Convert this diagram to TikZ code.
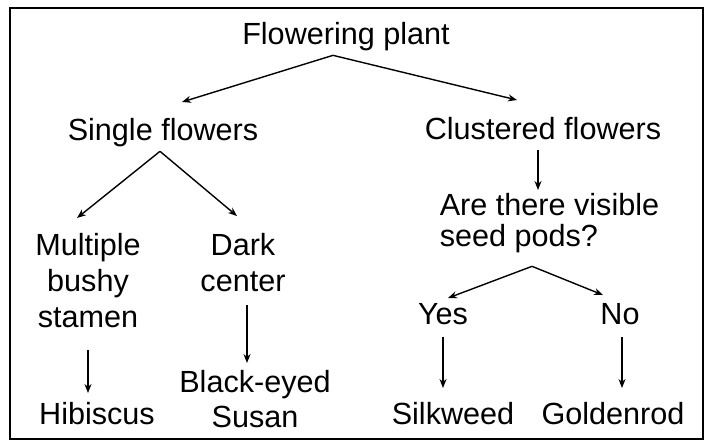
\documentclass[tikz,border=0pt]{standalone}
\usepackage{fontspec}
\setmainfont{Liberation Sans}
\usetikzlibrary{arrows.meta, positioning}
\tikzset{
    label/.style={anchor=north, inner sep=0pt, font=\fontsize{15.3}{18}\selectfont},
    arr/.style={line width=0.7pt, -{Stealth[length=4.5pt, width=3.5pt]}}
}

\begin{document}
\begin{tikzpicture}[x=0.5pt, y=-0.5pt]
    % Frame
    \useasboundingbox (0,0) rectangle (710,447);
    \draw[line width=1pt] (10,8) rectangle (703,439);

    % Root
    \node[label] (plant) at (346,22) {Flowering plant};

    % Second level
    \node[label] (single) at (163,118) {Single flowers};
    \node[label] (clustered) at (543,117) {Clustered flowers};

    % Single flowers branch
    \node[label, align=center] (multiple) at (88,233) {Multiple\\bushy\\stamen};
    \node[label, align=center] (dark) at (243,233) {Dark\\center};
    \node[label] (hibiscus) at (97,402) {Hibiscus};
    \node[label, align=center, font=\fontsize{15.3}{17.5}\selectfont] (blackeyed) at (255,370) {Black-eyed\\Susan};

    % Clustered flowers branch
    \node[label, align=left, font=\fontsize{15.3}{15.5}\selectfont] (question) at (549.5,193) {Are there visible\\seed pods?};
    \node[label] (yes) at (443,303) {Yes};
    \node[label] (no) at (620,303) {No};
    \node[label] (silkweed) at (453,402) {Silkweed};
    \node[label] (goldenrod) at (613,402) {Goldenrod};

    % Arrows
    \draw[arr] ([xshift=-6.5pt, yshift=-2pt]plant.south) -- ([xshift=9.5pt, yshift=8pt]single.north);
    \draw[arr] ([xshift=-6.5pt, yshift=-2pt]plant.south) -- ([xshift=-13pt, yshift=8.5pt]clustered.north);
    \draw[arr] ([xshift=-1.5pt, yshift=-2pt]single.south) -- ([xshift=-5.5pt, yshift=7.5pt]multiple.north);
    \draw[arr] ([xshift=-1.5pt, yshift=-2pt]single.south) -- ([xshift=-3pt, yshift=8.5pt]dark.north);
    \draw[arr] ([xshift=-2.5pt, yshift=-5pt]clustered.south) -- ([xshift=-5.75pt, yshift=1.5pt]question.north);
    \draw[arr] ([xshift=-8.75pt, yshift=-6.5pt]question.south) -- ([xshift=2.5pt, yshift=2.5pt]yes.north);
    \draw[arr] ([xshift=-8.75pt, yshift=-6.5pt]question.south) -- ([xshift=-8.5pt, yshift=4pt]no.north);
    \draw[arr] ([yshift=-11pt]multiple.south) -- ([xshift=-4.5pt, yshift=4.5pt]hibiscus.north);
    \draw[arr] ([xshift=2pt, yshift=-6.5pt]dark.south) -- ([xshift=-4pt, yshift=3.5pt]blackeyed.north);
    \draw[arr] ([yshift=-6pt]yes.south) -- ([xshift=-5pt, yshift=7pt]silkweed.north);
    \draw[arr] ([xshift=1pt, yshift=-6pt]no.south) -- ([xshift=4.5pt, yshift=7pt]goldenrod.north);
\end{tikzpicture}
\end{document}
